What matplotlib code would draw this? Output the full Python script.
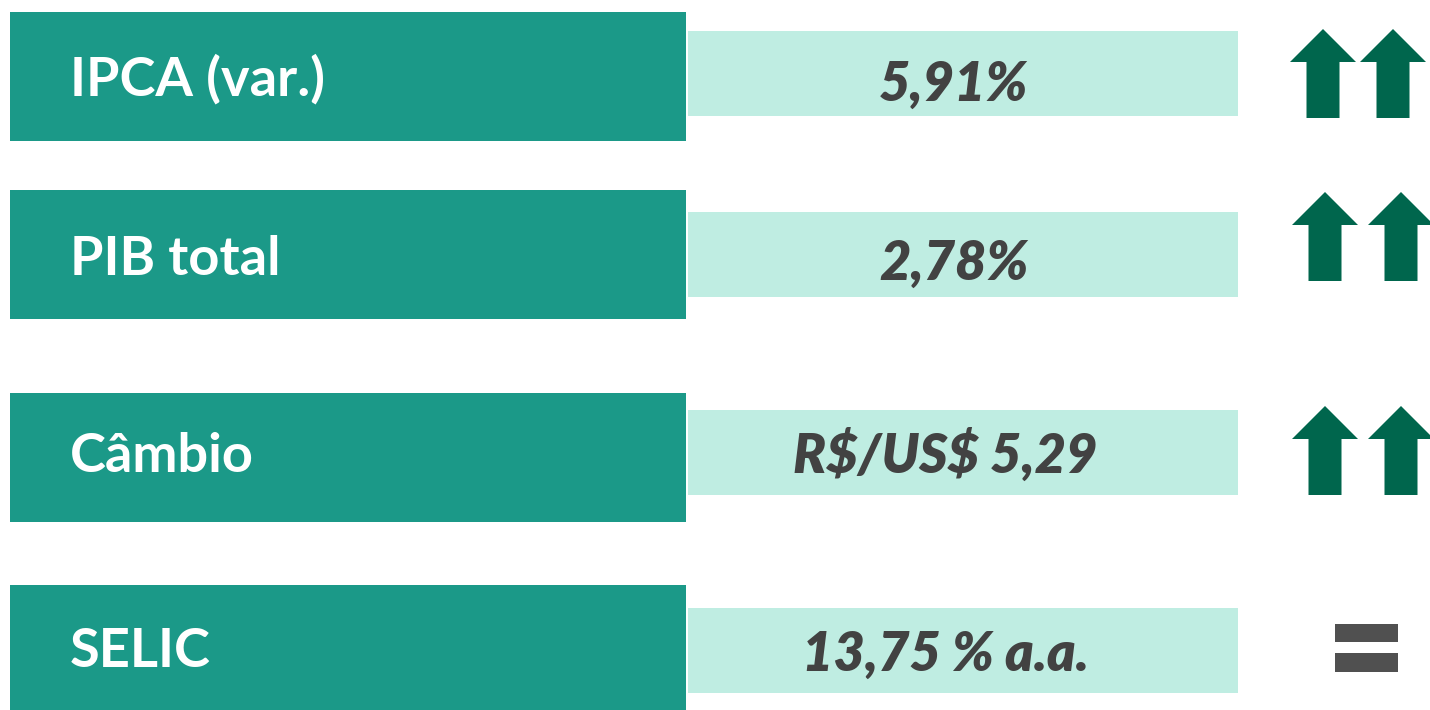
import matplotlib
matplotlib.use('Agg')
from matplotlib import pyplot as plt
from matplotlib.patches import Rectangle, Polygon

labels = ['IPCA (var.)', 'PIB total', 'Câmbio', 'SELIC']
values = ['5,91%', '2,78%', 'R$/US$ 5,29', '13,75 % a.a.']
trends = ['up', 'up', 'up', 'flat']

# layout (pixels, top-left origin)
row_top = [12, 190, 393, 585]
light_top = [31, 212, 410, 608]
label_base = [96, 275, 472, 667]
value_base = [101, 280, 473, 671]
value_x = [954, 954, 945, 945]
arrow_tip = [29, 192, 406]
arrow_x = [(1290, 1360), (1292, 1368), (1292, 1368)]

dark = '#1b9988'
light = '#bfede2'
arrow_col = '#00664d'
txt_col = '#424242'

plt.rcParams['font.family'] = ['Lato', 'DejaVu Sans']

fig = plt.figure(figsize=(14.3, 7.1), dpi=100)
ax = fig.add_axes([0, 0, 1, 1])
ax.set_xlim(0, 1430)
ax.set_ylim(710, 0)
ax.axis('off')


def up_arrow(x0, top):
  w, h, hh, sw = 66, 89, 33, 33
  cx = x0 + w / 2
  pts = [(cx, top), (x0 + w, top + hh), (cx + sw / 2, top + hh),
         (cx + sw / 2, top + h), (cx - sw / 2, top + h),
         (cx - sw / 2, top + hh), (x0, top + hh)]
  ax.add_patch(Polygon(pts, closed=True, color=arrow_col, lw=0))


for i in range(len(labels)):
  ax.add_patch(Rectangle((10, row_top[i]), 676, 129, color=dark, lw=0))
  ax.add_patch(Rectangle((688, light_top[i]), 550, 85, color=light, lw=0))
  ax.text(70, label_base[i], labels[i], color='white', fontsize=39,
          fontweight='bold', va='baseline', ha='left', parse_math=False)
  ax.text(value_x[i], value_base[i], values[i], color=txt_col, fontsize=39,
          fontweight='heavy', fontstyle='italic', va='baseline', ha='center',
          parse_math=False)
  if trends[i] == 'up':
    for x0 in arrow_x[i]:
      up_arrow(x0, arrow_tip[i])
  else:
    ax.add_patch(Rectangle((1335, 624), 63, 18, color='#505050', lw=0))
    ax.add_patch(Rectangle((1335, 653), 63, 19, color='#505050', lw=0))

fig.savefig('out.png', dpi=100)
